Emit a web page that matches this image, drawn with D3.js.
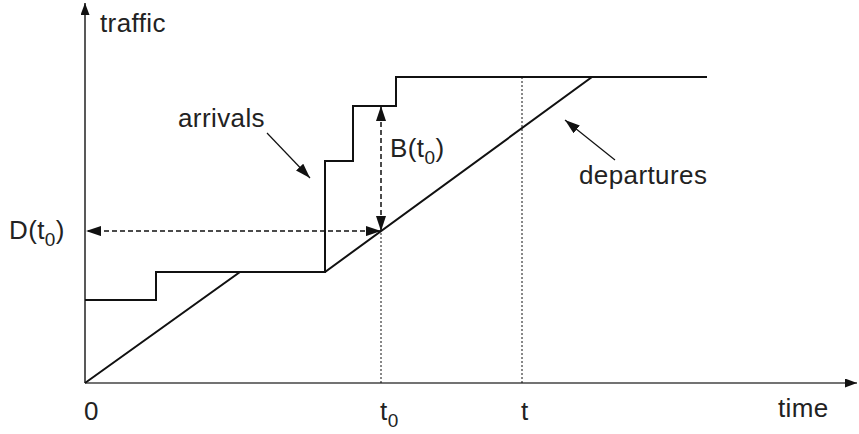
<!DOCTYPE html>
<html>
<head>
<meta charset="utf-8">
<script src="https://cdn.jsdelivr.net/npm/d3@7"></script>
<style>
body { margin: 0; background: #fff; }
text { font-family: "Liberation Sans", Arial, sans-serif; font-size: 26px; fill: #222; letter-spacing: 0.4px; }
</style>
</head>
<body>
<div id="chart"></div>
<script>
// arrivals: cumulative traffic, step after each arrival time
var arrivalTimes = [0, 7.1, 24, 26.8, 31.1];
var arrivalCounts = [8.3, 11.1, 22.2, 27.7, 30.6];
var horizonEnd = 62.2;
// departures: piecewise linear service curve
var departureTimes = [0, 15.5, 24, 50.7, 62.2];
var departureCounts = [0, 11.1, 11.1, 30.6, 30.6];
// marked instants on the time axis
var t0 = 29.6;
var tMark = 43.7;

var width = 859, height = 434;

var svg = d3.select("#chart").append("svg")
	.attr("width", width)
	.attr("height", height);

var x = d3.scaleLinear().domain([0, 77.2]).range([85, 857]);
var y = d3.scaleLinear().domain([0, 37.8]).range([383, 5]);

function addMarker(id, w, l){
	svg.append("defs").append("marker")
		.attr("id", id)
		.attr("markerUnits", "userSpaceOnUse")
		.attr("viewBox", "0 0 " + l + " " + w)
		.attr("refX", l).attr("refY", w / 2)
		.attr("markerWidth", l).attr("markerHeight", w)
		.attr("orient", "auto-start-reverse")
		.append("path")
		.attr("d", "M0,0L" + l + "," + (w / 2) + "L0," + w + "Z")
		.attr("fill", "#111");
}
addMarker("axisHead", 9, 12);
addMarker("head", 10, 15);

function departureAt(t){
	for(var i = 1; i < departureTimes.length; i++){
		if(t <= departureTimes[i]){
			var f = (t - departureTimes[i-1]) / (departureTimes[i] - departureTimes[i-1]);
			return departureCounts[i-1] + f * (departureCounts[i] - departureCounts[i-1]);
		}
	}
	return departureCounts[departureCounts.length - 1];
}
function arrivalAt(t){
	var v = arrivalCounts[0];
	for(var i = 0; i < arrivalTimes.length; i++){
		if(arrivalTimes[i] <= t) v = arrivalCounts[i];
	}
	return v;
}

// axes
svg.append("line")
	.attr("x1", x(0)).attr("y1", y(0))
	.attr("x2", x(0)).attr("y2", y(37.8) - 2)
	.attr("stroke", "#222").attr("stroke-width", 1.5)
	.attr("marker-end", "url(#axisHead)");
svg.append("line")
	.attr("x1", x(0)).attr("y1", y(0))
	.attr("x2", x(77.2)).attr("y2", y(0))
	.attr("stroke", "#444").attr("stroke-width", 1.5)
	.attr("marker-end", "url(#axisHead)");

// dotted guides at t0 and t
svg.append("line")
	.attr("x1", x(t0)).attr("y1", y(0))
	.attr("x2", x(t0)).attr("y2", y(departureAt(t0)))
	.attr("stroke", "#111").attr("stroke-width", 1)
	.attr("stroke-dasharray", "2,2");
svg.append("line")
	.attr("x1", x(tMark)).attr("y1", y(0))
	.attr("x2", x(tMark)).attr("y2", y(arrivalAt(tMark)))
	.attr("stroke", "#111").attr("stroke-width", 1)
	.attr("stroke-dasharray", "2,2");

// arrivals step curve
var arrivalPts = arrivalTimes.map(function(t, i){ return [t, arrivalCounts[i]]; });
arrivalPts.push([horizonEnd, arrivalCounts[arrivalCounts.length - 1]]);
var stepLine = d3.line()
	.x(function(d){ return x(d[0]); })
	.y(function(d){ return y(d[1]); })
	.curve(d3.curveStepAfter);
svg.append("path")
	.attr("d", stepLine(arrivalPts))
	.attr("fill", "none").attr("stroke", "#111").attr("stroke-width", 2);

// departures
var depPts = departureTimes.map(function(t, i){ return [t, departureCounts[i]]; });
var depLine = d3.line()
	.x(function(d){ return x(d[0]); })
	.y(function(d){ return y(d[1]); });
svg.append("path")
	.attr("d", depLine(depPts))
	.attr("fill", "none").attr("stroke", "#111").attr("stroke-width", 2);

// D(t0) horizontal delay arrow
svg.append("line")
	.attr("x1", x(t0)).attr("y1", y(departureAt(t0)))
	.attr("x2", x(0) + 1).attr("y2", y(departureAt(t0)))
	.attr("stroke", "#111").attr("stroke-width", 1.5)
	.attr("stroke-dasharray", "5,3")
	.attr("marker-start", "url(#head)")
	.attr("marker-end", "url(#head)");

// B(t0) vertical backlog arrow
svg.append("line")
	.attr("x1", x(t0)).attr("y1", y(departureAt(t0)))
	.attr("x2", x(t0)).attr("y2", y(arrivalAt(t0)))
	.attr("stroke", "#111").attr("stroke-width", 1.5)
	.attr("stroke-dasharray", "5,3")
	.attr("marker-start", "url(#head)")
	.attr("marker-end", "url(#head)");

// annotation pointers
var pointers = [
	{x1: 267, y1: 133, x2: 310, y2: 178},
	{x1: 615, y1: 160, x2: 565, y2: 120}
];
svg.selectAll(".pointer").data(pointers)
	.enter().append("line")
	.attr("class", "pointer")
	.attr("x1", function(d){ return d.x1; })
	.attr("y1", function(d){ return d.y1; })
	.attr("x2", function(d){ return d.x2; })
	.attr("y2", function(d){ return d.y2; })
	.attr("stroke", "#111").attr("stroke-width", 1.2)
	.attr("marker-end", "url(#head)");

// labels
function label(px, py, main, sub, tail){
	var t = svg.append("text").attr("x", px).attr("y", py);
	t.append("tspan").text(main);
	if(sub){
		t.append("tspan").attr("dy", 7).style("font-size", "19px").text(sub);
		if(tail) t.append("tspan").attr("dy", -7).text(tail);
	}
	return t;
}
label(100, 32, "traffic");
label(178, 127, "arrivals");
label(579, 184, "departures");
label(390, 157, "B(t", "0", ")");
label(9, 239, "D(t", "0", ")");
label(778, 417, "time");

var tickLabels = [
	{t: 0, main: "0"},
	{t: t0, main: "t", sub: "0"},
	{t: tMark, main: "t"}
];
tickLabels.forEach(function(d){
	label(x(d.t) - 1, 420, d.main, d.sub);
});
</script>
</body>
</html>
